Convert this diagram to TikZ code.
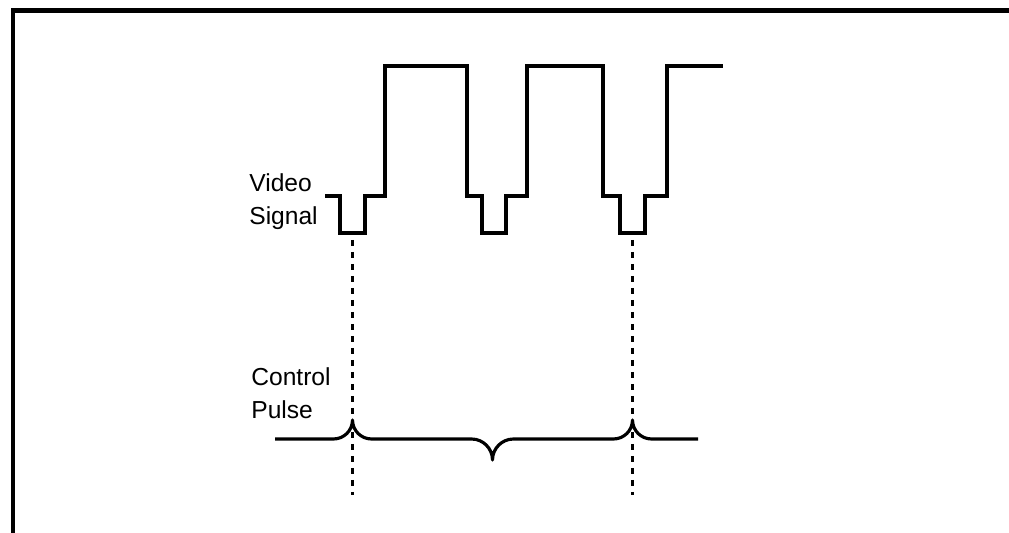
\documentclass[tikz,border=0pt]{standalone}
\usepackage{fontspec}
\setmainfont{Liberation Sans}
\usetikzlibrary{positioning}
\tikzset{
  frame/.style={line width=2.3pt, line join=miter},
  sig/.style={line width=2pt, line join=miter, line cap=butt},
  pulse/.style={line width=1.8pt, line join=round},
  guide/.style={line width=1.4pt, dash pattern=on 0.12cm off 0.12cm},
  lbl/.style={font=\fontsize{14}{18.8}\selectfont, align=left, inner sep=0pt}
}
\begin{document}
\begin{tikzpicture}[x=0.02cm,y=0.02cm]
  % page size = reference size in px, origin bottom left
  \path[fill=white] (0,0) rectangle (1009,533);
  \useasboundingbox (0,0) rectangle (1009,533);
  \draw[frame] (13,0) -- (13,522.5) -- (1009,522.5);
  % labels (base anchor sits on the last line)
  \node[lbl,anchor=base west] (vid) at (249,308) {Video\\Signal};
  \node[lbl,anchor=base west] (ctl) at (251,114) {Control\\Pulse};
  % video signal with three sync pulses
  \draw[sig] (325,337) -- (340,337) -- (340,300) -- (365,300) -- (365,337)
    -- (385,337) -- (385,467) -- (467,467) -- (467,337) -- (482,337)
    -- (482,300) -- (506,300) -- (506,337) -- (527,337) -- (527,467)
    -- (603,467) -- (603,337) -- (620,337) -- (620,300) -- (645,300)
    -- (645,337) -- (667,337) -- (667,467) -- (723,467);
  \coordinate (syncA) at (352.5,293);
  \coordinate (syncC) at (632.5,293);
  \coordinate (endA) at (352.5,38);
  \coordinate (endC) at (632.5,38);
  % control pulse
  \draw[pulse] (275,94) -- (333.5,94)
    arc[start angle=270,end angle=360,radius=19]
    arc[start angle=180,end angle=270,radius=19] -- (471.5,94)
    arc[start angle=90,end angle=0,radius=21]
    arc[start angle=180,end angle=90,radius=21] -- (613.5,94)
    arc[start angle=270,end angle=360,radius=19]
    arc[start angle=180,end angle=270,radius=19] -- (698,94);
  % timing guides
  \draw[guide] (syncA) -- (endA);
  \draw[guide] (syncC) -- (endC);
\end{tikzpicture}
\end{document}
